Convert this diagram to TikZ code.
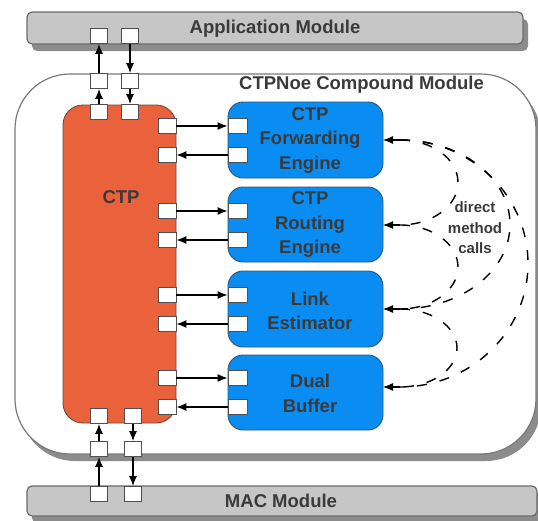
\documentclass[tikz,border=0pt]{standalone}
\usepackage{fontspec}
\setmainfont{Liberation Sans}
\usetikzlibrary{shadows,arrows.meta}
\definecolor{barfill}{HTML}{C6C6C6}
\definecolor{barline}{HTML}{6A6A6A}
\definecolor{shade}{HTML}{8C8C8C}
\definecolor{ctpfill}{HTML}{E9623B}
\definecolor{ctpline}{HTML}{6B4A3E}
\definecolor{engfill}{HTML}{0A8DF2}
\definecolor{engline}{HTML}{2E5677}
\definecolor{txt}{HTML}{3A3A3A}
\definecolor{portline}{HTML}{505050}
\definecolor{modline}{HTML}{7A7A7A}
\begin{document}
\begin{tikzpicture}[x=1pt,y=-1pt,
  shadowed/.style={drop shadow={shadow xshift=5pt,shadow yshift=-7pt,fill=shade,opacity=1}},
  bar/.style={draw=barline,fill=barfill,line width=1.2pt,rounded corners=5pt,inner sep=0pt,shadowed},
  compound/.style={draw=modline,fill=white,line width=1.2pt,rounded corners=55pt,inner sep=0pt,shadowed},
  ctpbox/.style={draw=ctpline,fill=ctpfill,line width=0.9pt,rounded corners=20pt,inner sep=0pt},
  engine/.style={draw=engline,fill=engfill,line width=0.9pt,rounded corners=15pt,inner sep=0pt,
    minimum width=155pt,minimum height=76pt},
  port/.style={draw=portline,fill=white,line width=0.9pt,inner sep=0pt,minimum width=17pt,minimum height=15pt},
  label/.style={text=txt,font=\bfseries\fontsize{18.5}{24.5}\selectfont,align=center,inner sep=0pt},
  small/.style={text=txt,font=\bfseries\fontsize{15}{20.5}\selectfont,align=center,inner sep=0pt},
  arr/.style={-{Latex[length=10pt,width=8pt]},line width=1.2pt},
  call/.style={line width=1.4pt,dash pattern=on 10pt off 13pt}
]
\useasboundingbox (0,0) rectangle (538,520);

% enclosing module and the two neighbouring layers
\node[compound,minimum width=521pt,minimum height=380pt] (cmp) at (275.5,264) {};
\node[bar,minimum width=496pt,minimum height=32pt] (app) at (275,28) {};
\node[bar,minimum width=510pt,minimum height=30pt] (mac) at (282,501) {};
\node[label] (appl) at (275,29) {Application Module};
\node[label] (macl) at (281,501) {MAC Module};
\node[label] (cmpl) at (361.5,85) {CTPNoe Compound Module};

% CTP core block
\node[ctpbox,minimum width=113pt,minimum height=318pt] (ctp) at (119.5,264) {};
\node[label] (ctpl) at (121,197) {CTP};

% engines
\node[engine] (e1) at (305.5,140) {};
\node[engine,minimum height=75pt] (e2) at (305.5,224.5) {};
\node[engine] (e3) at (305.5,309) {};
\node[engine,minimum height=75pt] (e4) at (305.5,392.5) {};
\node[label] (e1l) at (310,140) {CTP\\Forwarding\\Engine};
\node[label] (e2l) at (310,224.5) {CTP\\Routing\\Engine};
\node[label] (e3l) at (310,311) {Link\\Estimator};
\node[label] (e4l) at (310,393.5) {Dual\\Buffer};

% vertical gates: top
\node[port] (ap1) at (99,36) {};
\node[port] (ap2) at (130,36) {};
\node[port] (ct1) at (99,81) {};
\node[port] (ct2) at (130,81) {};
\node[port] (cp1) at (99,112) {};
\node[port] (cp2) at (130,112) {};
% vertical gates: bottom
\node[port] (cq1) at (99,416) {};
\node[port] (cq2) at (133,416) {};
\node[port] (cb1) at (99,449) {};
\node[port] (cb2) at (133,449) {};
\node[port] (mp1) at (99,494) {};
\node[port] (mp2) at (133,494) {};

% side gates on CTP and on the engines
\foreach \i/\y in {1/126,2/155,3/211,4/240,5/295,6/324,7/378,8/407}{
  \node[port,minimum width=18pt] (r\i) at (167,\y) {};
  \node[port,minimum width=19pt] (g\i) at (237.5,\y) {};
}

% gate connections
\draw[arr] (cp1) -- (ct1);
\draw[arr] (ct1) -- (ap1);
\draw[arr] (ap2) -- (ct2);
\draw[arr] (ct2) -- (cp2);
\draw[arr] (mp1) -- (cb1);
\draw[arr] (cb1) -- (cq1);
\draw[arr] (cq2) -- (cb2);
\draw[arr] (cb2) -- (mp2);
\foreach \o/\n in {1/2,3/4,5/6,7/8}{
  \draw[arr] (r\o) -- (g\o);
  \draw[arr] (g\n) -- (r\n);
}

% direct method calls between the engines
\foreach \k/\y in {1/140,2/225,3/309,4/387}{
  \coordinate (t\k) at (383,\y);
  \coordinate (s\k) at (400,\y);
  \draw[arr] (s\k) -- (t\k);
}
\coordinate (m14) at (528,263.5);
\coordinate (m13) at (510,224.5);
\coordinate (m12) at (458,182.5);
\coordinate (m23) at (458,267);
\coordinate (m34) at (457,348);
\draw[call] (s1) .. controls +(70.7,0) and +(0,-68.2) .. (m14)
                 .. controls +(0,68.2) and +(70.7,0) .. (s4);
\draw[call] (s1) .. controls +(60.8,0) and +(0,-46.7) .. (m13)
                 .. controls +(0,46.7) and +(60.8,0) .. (s3);
\draw[call] (s1) .. controls +(32,0) and +(0,-23.5) .. (m12)
                 .. controls +(0,23.5) and +(32,0) .. (s2);
\draw[call] (s2) .. controls +(32,0) and +(0,-23.2) .. (m23)
                 .. controls +(0,23.2) and +(32,0) .. (s3);
\draw[call] (s3) .. controls +(31.5,0) and +(0,-21.5) .. (m34)
                 .. controls +(0,21.5) and +(31.5,0) .. (s4);
\node[small] (dmc) at (475,228) {direct\\method\\calls};
\end{tikzpicture}
\end{document}
